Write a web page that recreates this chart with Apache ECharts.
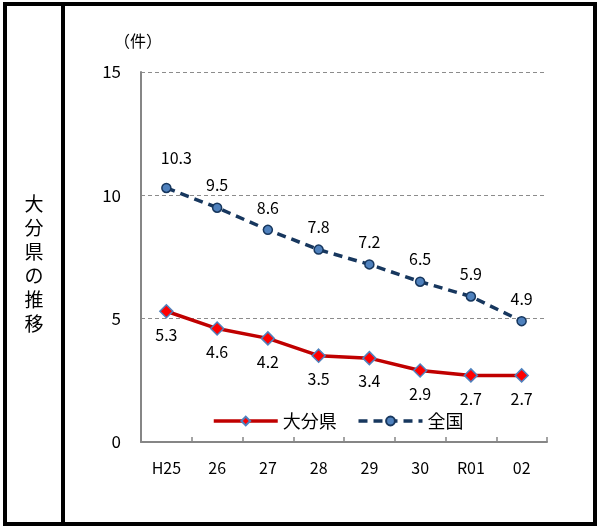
<!DOCTYPE html>
<html><head><meta charset="utf-8">
<script src="https://cdn.jsdelivr.net/npm/echarts@6/dist/echarts.min.js"></script>
<style>html,body{margin:0;padding:0;background:#fff}#c{width:600px;height:527px}</style>
</head><body><div id="c"></div>
<script>
const categories = ['H25','26','27','28','29','30','R01','02'];
const oitaValues = [5.3,4.6,4.2,3.5,3.4,2.9,2.7,2.7];
const nationalValues = [10.3,9.5,8.6,7.8,7.2,6.5,5.9,4.9];
const yTicks = [0,5,10,15];
const FONT = '"Noto Sans CJK JP", "Noto Sans", sans-serif';
const nationalData = nationalValues.map((v,i)=> i===0 ? {value:v,label:{offset:[10,-8]}} : v);
const chart = echarts.init(document.getElementById('c'));
chart.setOption({
  animation:false,
  textStyle:{fontFamily:FONT},
  grid:{left:141,right:53,top:72,bottom:85,containLabel:false},
  legend:{
    top:407,left:207,itemWidth:64,itemHeight:11,itemGap:20,
    textStyle:{fontSize:18,color:'#000',fontFamily:FONT},
    lineStyle:{width:3.5},
    data:['大分県','全国']
  },
  xAxis:{
    type:'category',data:categories,boundaryGap:true,
    axisLine:{lineStyle:{color:'#868686',width:2}},
    axisTick:{show:true,inside:true,length:5,lineStyle:{color:'#868686',width:1.5}},
    axisLabel:{fontSize:16,color:'#000',margin:18,fontFamily:FONT}
  },
  yAxis:{
    type:'value',min:0,max:15,interval:5,
    axisLine:{show:true,lineStyle:{color:'#868686',width:2}},
    axisTick:{show:false},
    axisLabel:{fontSize:17,color:'#000',margin:20,fontFamily:FONT,
      formatter:v=>yTicks.includes(v)?String(v):''},
    splitLine:{show:true,lineStyle:{color:'#8c8c8c',type:[4,3],width:1}}
  },
  series:[
    {name:'大分県',type:'line',data:oitaValues,
     lineStyle:{color:'#C00000',width:3.5},
     itemStyle:{color:'#FF0000',borderColor:'#4F81BD',borderWidth:1.5},
     symbol:'diamond',symbolSize:13,
     label:{show:true,position:'bottom',distance:8,fontSize:16,color:'#000',fontFamily:FONT}},
    {name:'全国',type:'line',data:nationalData,
     lineStyle:{color:'#17375E',width:3.5,type:[9,6]},
     itemStyle:{color:'#4F81BD',borderColor:'#17375E',borderWidth:1.5},
     symbol:'circle',symbolSize:9,
     label:{show:true,position:'top',distance:9,fontSize:16,color:'#000',fontFamily:FONT}}
  ],
  graphic:[
    {type:'rect',shape:{x:5,y:4,width:590,height:520},style:{fill:'none',stroke:'#000',lineWidth:4},z:100},
    {type:'line',shape:{x1:63,y1:4,x2:63,y2:525},style:{stroke:'#000',lineWidth:4},z:100},
    {type:'text',left:114,top:33,style:{text:'（件）',fontSize:16,fill:'#000',fontFamily:FONT}},
    {type:'text',x:34,y:192,style:{text:'大\n分\n県\nの\n推\n移',fontSize:19,lineHeight:24,fill:'#000',align:'center',fontFamily:FONT}}
  ]
});
</script></body></html>
